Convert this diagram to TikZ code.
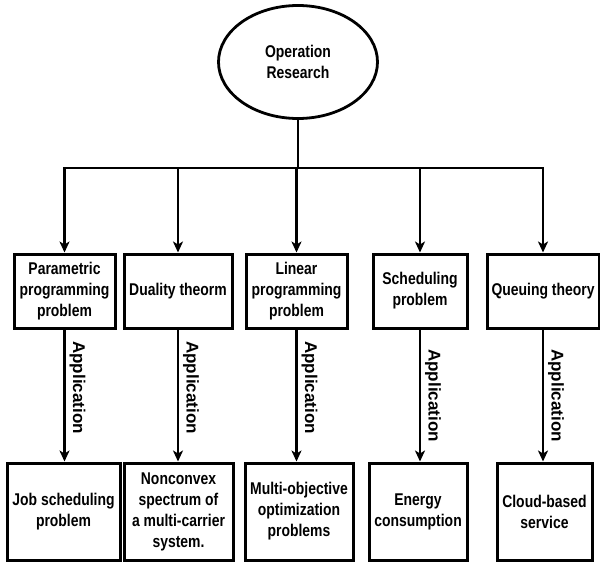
\documentclass[tikz,border=0pt]{standalone}
\usepackage{fontspec}
\newfontfamily\boxfont{Liberation Sans}[FakeStretch=0.82]
\newfontfamily\appfont{Liberation Sans}
\usetikzlibrary{shapes.geometric,arrows.meta}

\begin{document}
\begin{tikzpicture}[x=1pt,y=-1pt,
    every node/.style={font=\boxfont\bfseries\fontsize{17}{21}\selectfont},
    topic/.style={draw, line width=3pt, align=center, inner sep=0pt, minimum height=74pt},
    result/.style={draw, line width=3pt, align=center, inner sep=0pt, minimum height=97pt},
    link/.style={line width=2.8pt, -{Stealth[length=11pt,width=10pt,inset=3pt]}},
    applabel/.style={rotate=-90, anchor=south, inner sep=0pt, outer sep=5pt,
        font=\appfont\bfseries\fontsize{17}{20}\selectfont}]
    \useasboundingbox (0,0) rectangle (600,562);

    % root
    \node[draw, ellipse, line width=2.8pt, minimum width=159pt, minimum height=113pt, align=center] (or) at (298,62) {Operation\\Research};

    % methods
    \node[topic, minimum width=101pt] (pp) at (64.5,291) {Parametric\\programming\\problem};
    \node[topic, minimum width=108pt] (dt) at (178,291) {Duality theorm};
    \node[topic, minimum width=101pt] (lp) at (296.5,291) {Linear\\programming\\problem};
    \node[topic, minimum width=94pt] (sp) at (420,291) {Scheduling\\problem};
    \node[topic, minimum width=112pt] (qt) at (543,291) {Queuing theory};

    % applications
    \node[result, minimum width=113pt] (js) at (63.5,511.5) {Job scheduling\\problem};
    \node[result, minimum width=109pt] (ns) at (178.5,511.5) {Nonconvex\\spectrum of\\a multi-carrier\\system.};
    \node[result, minimum width=108pt] (mo) at (299,511.5) {Multi-objective\\optimization\\problems};
    \node[result, minimum width=98pt] (ec) at (418,511.5) {Energy\\consumption};
    \node[result, minimum width=95pt] (cb) at (544.5,511.5) {Cloud-based\\service};

    % tree
    \coordinate (bus) at (298,168);
    \draw[line width=2.8pt] (or.south) -- (bus);
    \draw[link] (bus) -| (pp.north);
    \draw[link] (bus) -| (dt.north);
    \draw[link] (bus) -| (lp.north);
    \draw[link] (bus) -| (sp.north);
    \draw[link] (bus) -| (qt.north);

    \draw[link] (pp.south) -- (pp.south |- js.north) node[applabel, pos=.44] {Application};
    \draw[link] (dt.south) -- (dt.south |- ns.north) node[applabel, pos=.44] {Application};
    \draw[link] (lp.south) -- (lp.south |- mo.north) node[applabel, pos=.44] {Application};
    \draw[link] (sp.south) -- (sp.south |- ec.north) node[applabel, pos=.5] {Application};
    \draw[link] (qt.south) -- (qt.south |- cb.north) node[applabel, pos=.5] {Application};
\end{tikzpicture}
\end{document}
